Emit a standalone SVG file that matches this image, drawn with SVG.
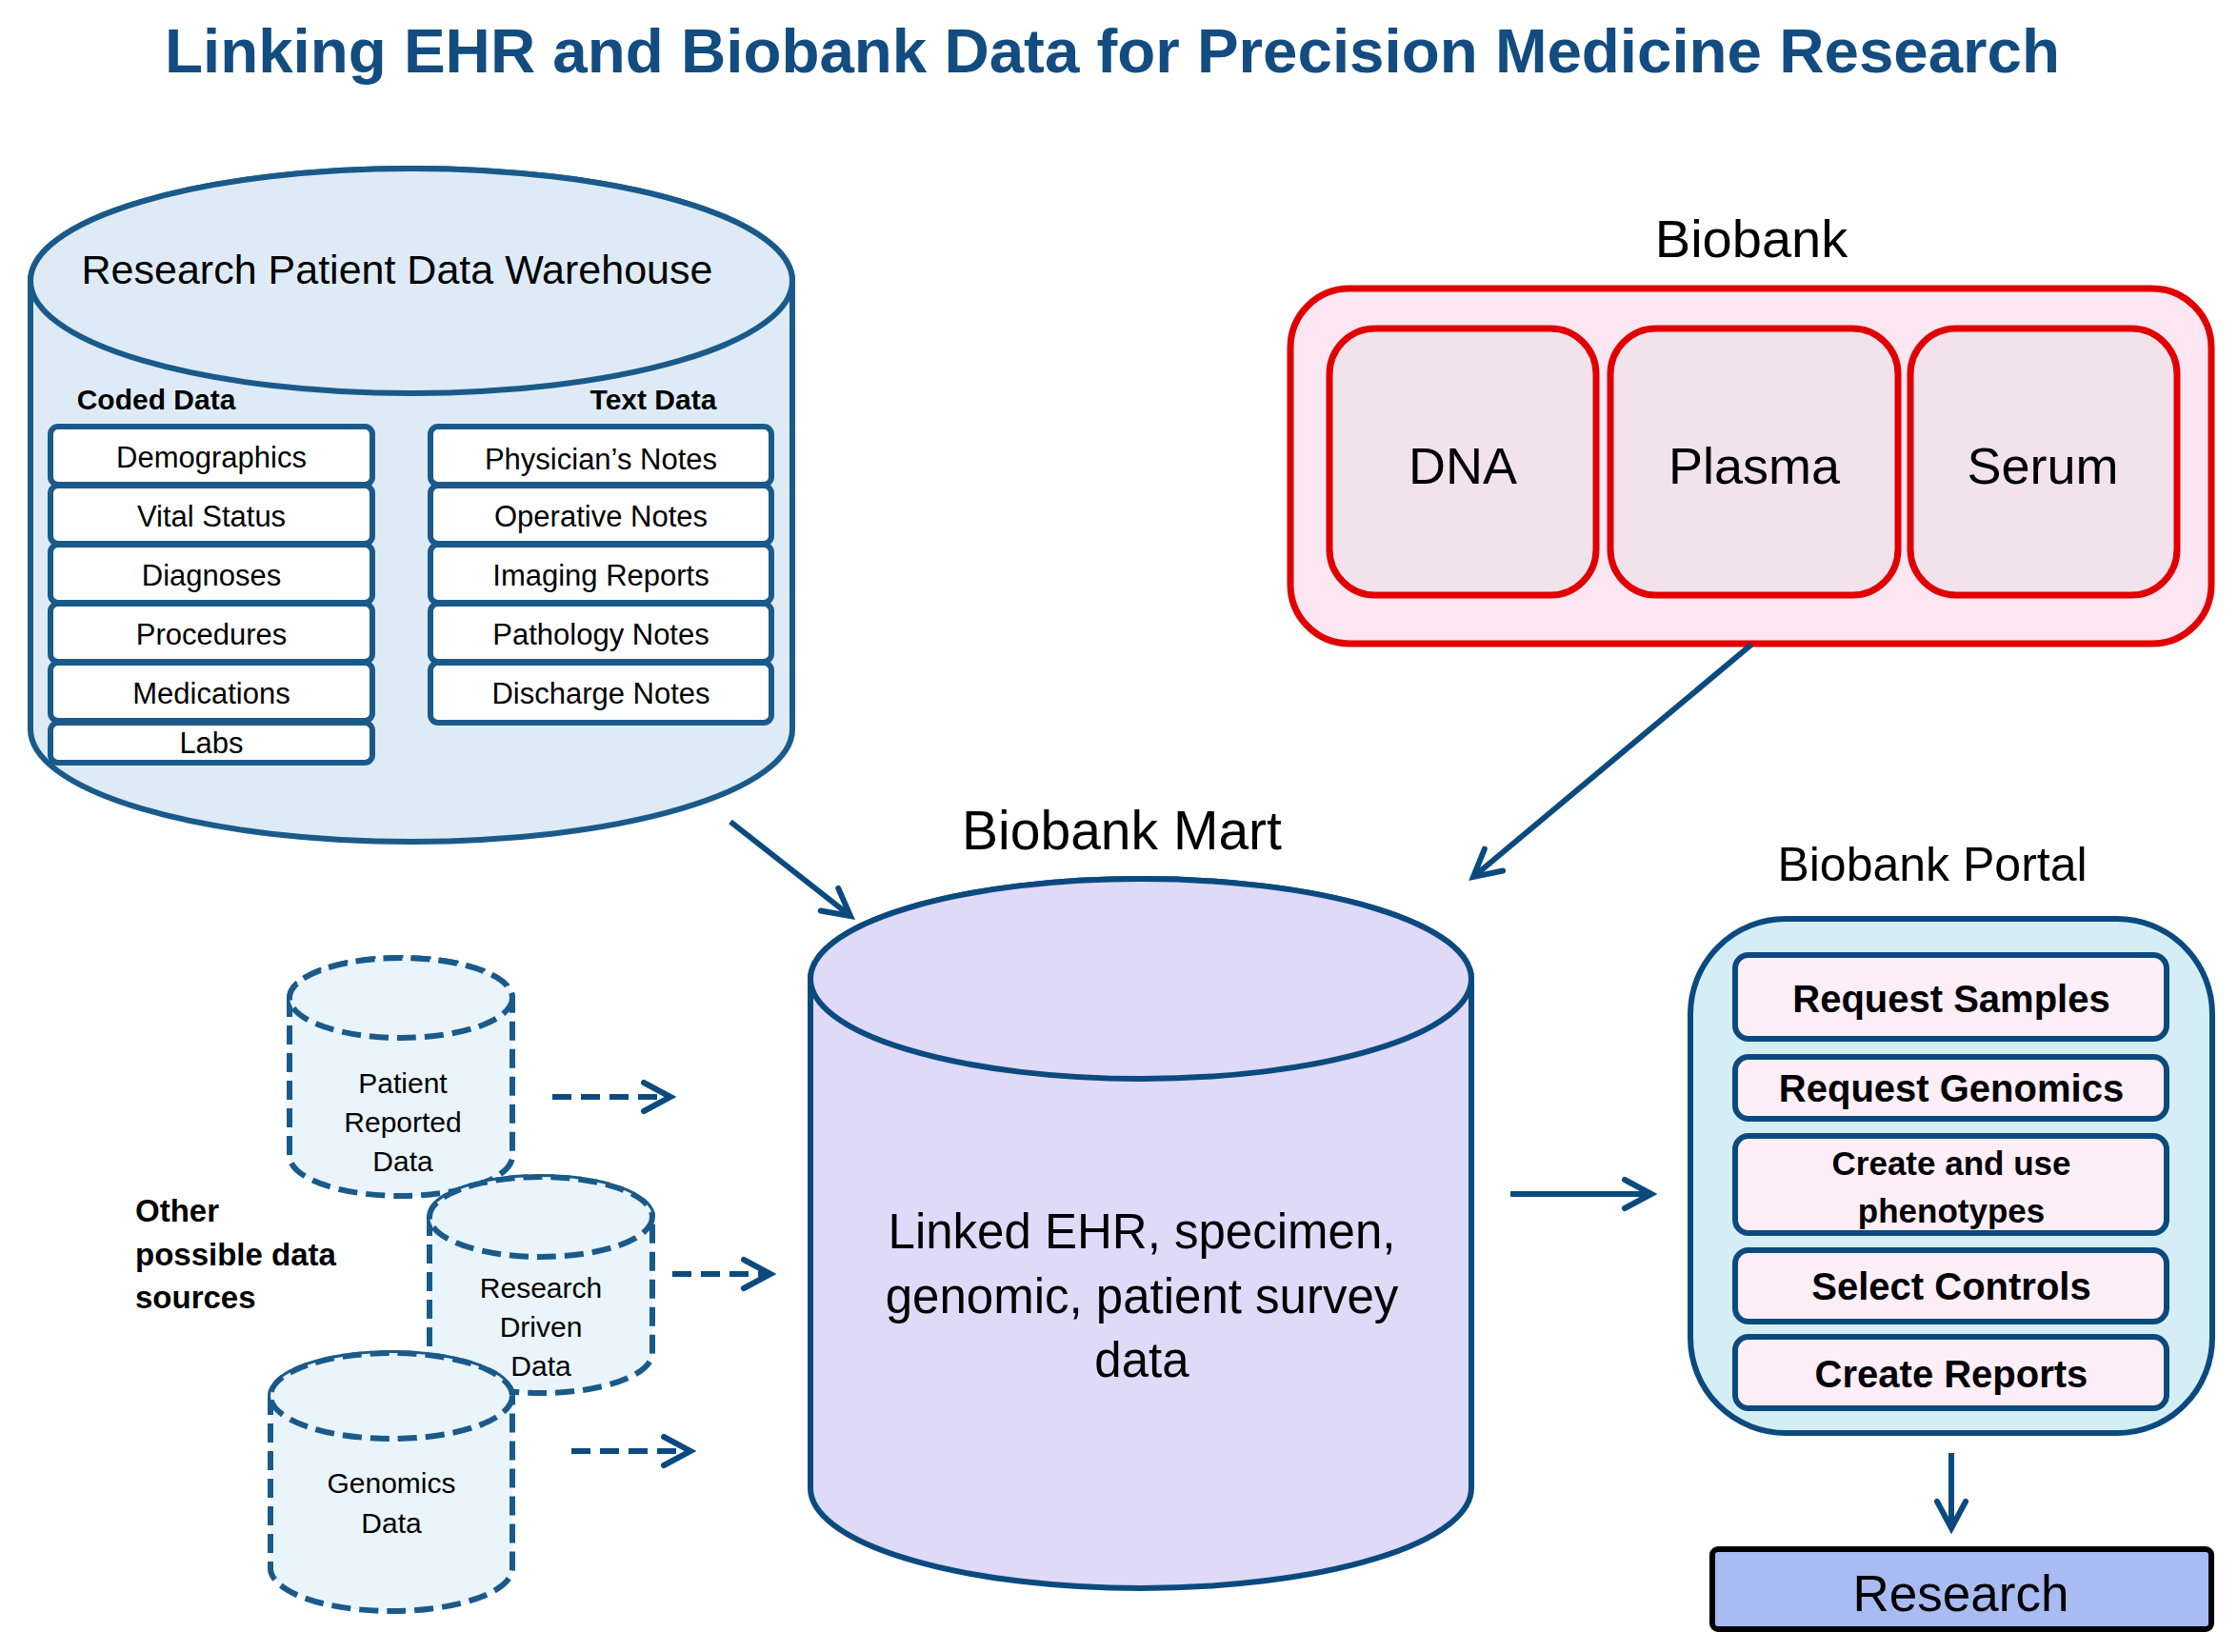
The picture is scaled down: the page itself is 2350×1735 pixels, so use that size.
<svg xmlns="http://www.w3.org/2000/svg" width="2350" height="1735" viewBox="0 0 2350 1735">
<defs>
<style>
text{font-family:"Liberation Sans",Arial,sans-serif;fill:#000;text-anchor:middle}
.title{font-size:64px;font-weight:bold;fill:#124C80}
.cyl{fill:#DEEBF7;stroke:#1A5A8A;stroke-width:6}
.mart{fill:#DEDAF8;stroke:#0B4A7E;stroke-width:6}
.dcyl{fill:#EAF4FB;stroke:#1A5A8A;stroke-width:6;stroke-dasharray:20 9}
.box{fill:#FFFFFF;stroke:#1A5A8A;stroke-width:6}
.bb{fill:#FCE6F1;stroke:#E00000;stroke-width:7}
.bbi{fill:#F2E2EC;stroke:#E00000;stroke-width:7}
.portal{fill:#D5EEF5;stroke:#0B4A7E;stroke-width:6}
.btn{fill:#FDEEF8;stroke:#0B4A7E;stroke-width:6}
.res{fill:#A8BBF2;stroke:#000;stroke-width:6}
.item{font-size:31px}
.hdr{font-size:30px;font-weight:bold}
.lbl{font-size:30px}
.btxt{font-size:40px;font-weight:bold}
.conn{fill:none;stroke:#0B4A7E;stroke-width:6;marker-end:url(#arr)}
.dash{stroke-dasharray:20 10}
</style>
<marker id="arr" markerUnits="userSpaceOnUse" markerWidth="44" markerHeight="44" viewBox="0 0 44 44" refX="38" refY="22" orient="auto">
<path d="M10,7 L38,22 L10,37" fill="none" stroke="#0B4A7E" stroke-width="6" stroke-dasharray="none" stroke-linecap="round"/>
</marker>
</defs>
<rect width="2350" height="1735" fill="#FFFFFF"/>
<text class="title" x="1168" y="76" textLength="1990" lengthAdjust="spacingAndGlyphs">Linking EHR and Biobank Data for Precision Medicine Research</text>

<g id="rpdw">
<path class="cyl" d="M32,295 L32,766 A400,118 0 0 0 832,766 L832,295 A400,118 0 0 0 32,295 Z"/>
<ellipse class="cyl" cx="432" cy="295" rx="400" ry="118"/>
<text x="417" y="298" style="font-size:43px">Research Patient Data Warehouse</text>
<text class="hdr" x="164" y="430">Coded Data</text>
<text class="hdr" x="686" y="430">Text Data</text>
<rect class="box" x="53" y="448" width="338" height="61" rx="8"/>
<text class="item" x="222" y="491">Demographics</text>
<rect class="box" x="53" y="510" width="338" height="61" rx="8"/>
<text class="item" x="222" y="553">Vital Status</text>
<rect class="box" x="53" y="572" width="338" height="61" rx="8"/>
<text class="item" x="222" y="615">Diagnoses</text>
<rect class="box" x="53" y="634" width="338" height="61" rx="8"/>
<text class="item" x="222" y="677">Procedures</text>
<rect class="box" x="53" y="696" width="338" height="61" rx="8"/>
<text class="item" x="222" y="739">Medications</text>
<rect class="box" x="53" y="759" width="338" height="42" rx="8"/>
<text class="item" x="222" y="791">Labs</text>
<rect class="box" x="452" y="448" width="358" height="61" rx="8"/>
<text class="item" x="631" y="493">Physician’s Notes</text>
<rect class="box" x="452" y="510" width="358" height="61" rx="8"/>
<text class="item" x="631" y="553">Operative Notes</text>
<rect class="box" x="452" y="572" width="358" height="61" rx="8"/>
<text class="item" x="631" y="615">Imaging Reports</text>
<rect class="box" x="452" y="634" width="358" height="61" rx="8"/>
<text class="item" x="631" y="677">Pathology Notes</text>
<rect class="box" x="452" y="696" width="358" height="63" rx="8"/>
<text class="item" x="631" y="739">Discharge Notes</text>
</g>

<g id="biobank">
<text x="1839" y="270" style="font-size:56px">Biobank</text>
<rect class="bb" x="1355" y="303" width="967" height="373" rx="62"/>
<g id="dna"><rect class="bbi" x="1396" y="345" width="280" height="280" rx="48"/>
<text x="1536" y="508" style="font-size:54px">DNA</text></g>
<g id="plasma"><rect class="bbi" x="1691" y="345" width="302" height="280" rx="48"/>
<text x="1842" y="508" style="font-size:54px">Plasma</text></g>
<g id="serum"><rect class="bbi" x="2006" y="345" width="280" height="280" rx="48"/>
<text x="2145" y="508" style="font-size:54px">Serum</text></g>
</g>

<g id="mart">
<text x="1178" y="892" style="font-size:57px">Biobank Mart</text>
<path class="mart" d="M851,1028 L851,1563 A347,105 0 0 0 1545,1563 L1545,1028 A347,105 0 0 0 851,1028 Z"/>
<ellipse class="mart" cx="1198" cy="1028" rx="347" ry="105"/>
<text x="1199" y="1311" style="font-size:51px">Linked EHR, specimen,</text>
<text x="1199" y="1379" style="font-size:51px">genomic, patient survey</text>
<text x="1199" y="1446" style="font-size:51px">data</text>
</g>

<g id="other-label">
<text class="hdr" x="142" y="1283" style="text-anchor:start;font-size:33px">Other</text>
<text class="hdr" x="142" y="1329" style="text-anchor:start;font-size:33px">possible data</text>
<text class="hdr" x="142" y="1374" style="text-anchor:start;font-size:33px">sources</text>
</g>

<g id="patient-reported">
<path class="dcyl" d="M304,1048 L304,1214 A117,42 0 0 0 538,1214 L538,1048 A117,42 0 0 0 304,1048 Z"/>
<ellipse class="dcyl" cx="421" cy="1048" rx="117" ry="42"/>
<text class="lbl" x="423" y="1148">Patient</text>
<text class="lbl" x="423" y="1189">Reported</text>
<text class="lbl" x="423" y="1230">Data</text>
</g>
<g id="research-driven">
<path class="dcyl" d="M451,1278 L451,1421 A117,42 0 0 0 685,1421 L685,1278 A117,42 0 0 0 451,1278 Z"/>
<ellipse class="dcyl" cx="568" cy="1278" rx="117" ry="42"/>
<text class="lbl" x="568" y="1363">Research</text>
<text class="lbl" x="568" y="1404">Driven</text>
<text class="lbl" x="568" y="1445">Data</text>
</g>
<g id="genomics">
<path class="dcyl" d="M284,1466 L284,1647 A127,45 0 0 0 538,1647 L538,1466 A127,45 0 0 0 284,1466 Z"/>
<ellipse class="dcyl" cx="411" cy="1466" rx="127" ry="45"/>
<text class="lbl" x="411" y="1568">Genomics</text>
<text class="lbl" x="411" y="1610">Data</text>
</g>

<g id="portal">
<text x="2029" y="925" style="font-size:50px">Biobank Portal</text>
<rect class="portal" x="1775" y="965" width="548" height="540" rx="100"/>
<rect class="btn" x="1822" y="1003" width="453" height="88" rx="14"/>
<text class="btxt" x="2049" y="1063">Request Samples</text>
<rect class="btn" x="1822" y="1110" width="453" height="65" rx="14"/>
<text class="btxt" x="2049" y="1157">Request Genomics</text>
<rect class="btn" x="1822" y="1193" width="453" height="102" rx="14"/>
<text class="btxt" x="2049" y="1234" style="font-size:35px">Create and use</text>
<text class="btxt" x="2049" y="1284" style="font-size:35px">phenotypes</text>
<rect class="btn" x="1822" y="1313" width="453" height="75" rx="14"/>
<text class="btxt" x="2049" y="1365">Select Controls</text>
<rect class="btn" x="1822" y="1404" width="453" height="75" rx="14"/>
<text class="btxt" x="2049" y="1457">Create Reports</text>
</g>

<g id="research">
<rect class="res" x="1798" y="1627" width="524" height="84" rx="6"/>
<text x="2059" y="1692" style="font-size:53px">Research</text>
</g>

<g id="connectors">
<path class="conn" d="M767,863 L893,962"/>
<path class="conn" d="M1839,677 L1547,921"/>
<path class="conn" d="M1586,1254 L1734,1254"/>
<path class="conn" d="M2049,1526 L2049,1605"/>
<path class="conn dash" d="M580,1152 L704,1152"/>
<path class="conn dash" d="M706,1338 L809,1338"/>
<path class="conn dash" d="M600,1524 L725,1524"/>
</g>
</svg>
